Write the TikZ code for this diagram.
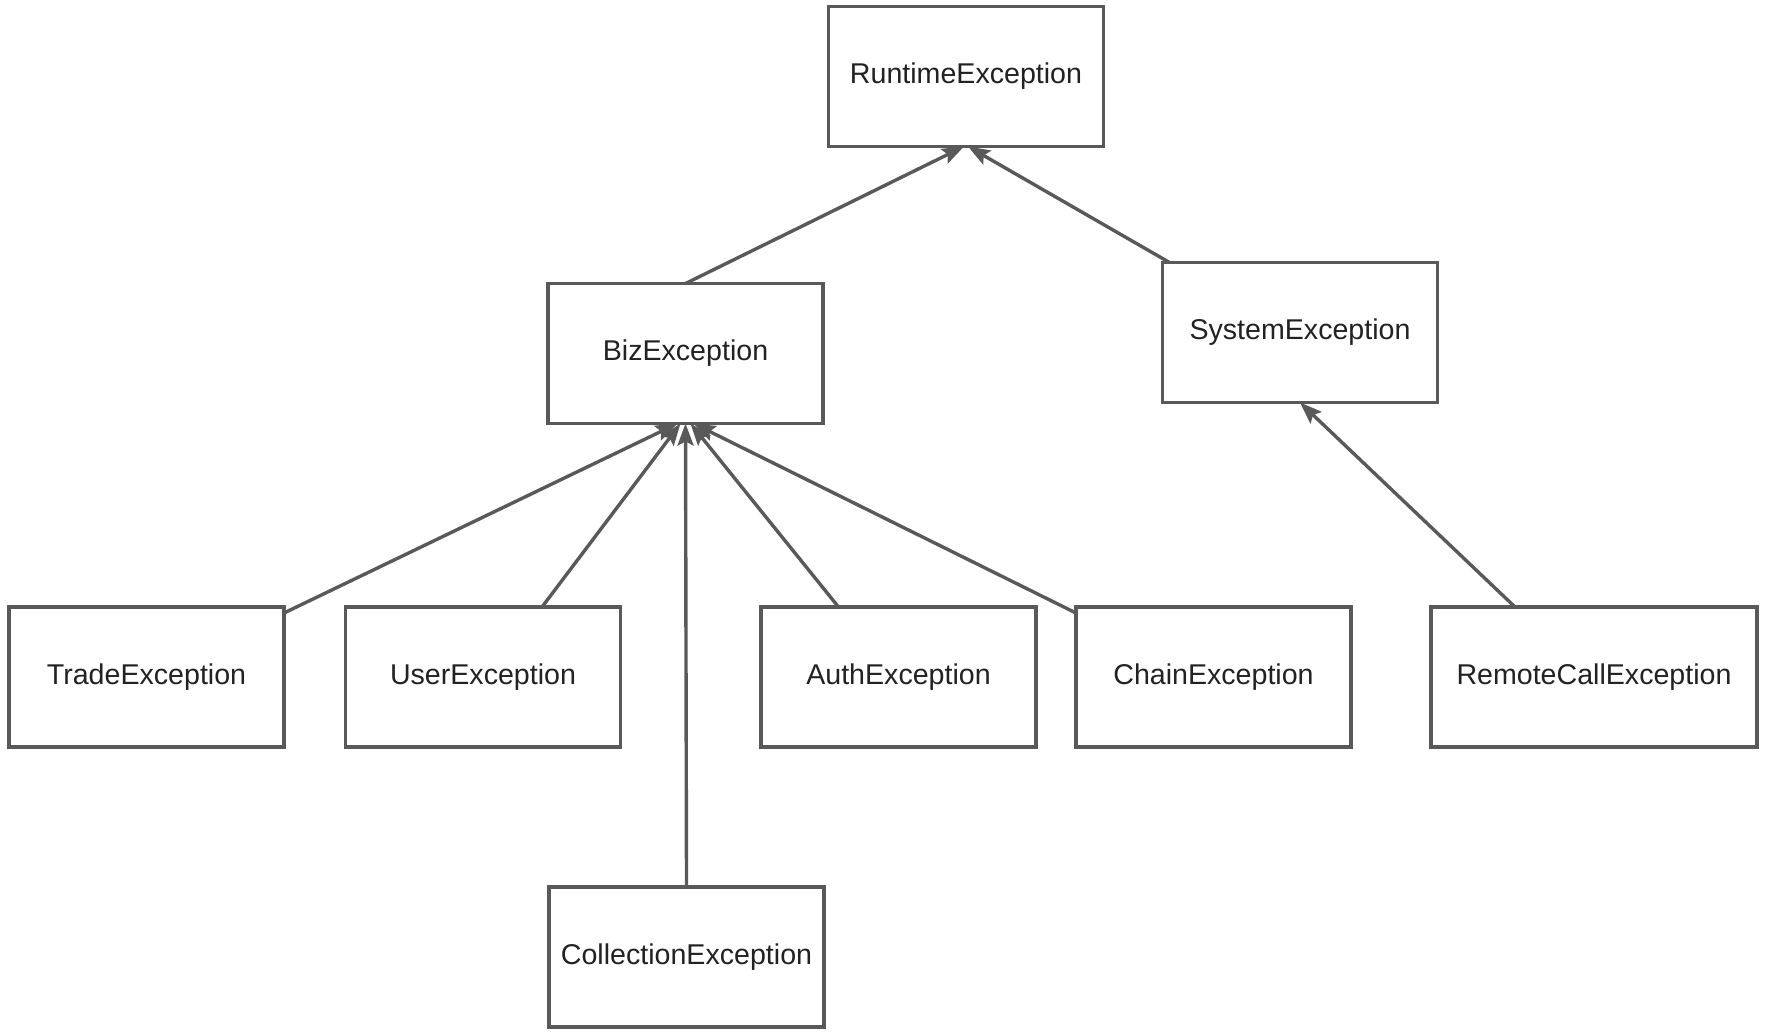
\documentclass[tikz,border=0pt]{standalone}
\usepackage{fontspec}
\setmainfont{Liberation Sans}
\usetikzlibrary{arrows.meta,calc}
\definecolor{edgegray}{HTML}{595959}
\definecolor{txt}{HTML}{222222}
\begin{document}
\begin{tikzpicture}[x=0.5pt,y=-0.5pt,
  cls/.style={draw=edgegray,line width=1.7pt,minimum width=137.5pt,minimum height=70pt,
    inner sep=0pt,outer sep=0pt,font=\fontsize{14.3}{17}\selectfont,text=txt,fill=white},
  inh/.style={draw=edgegray,line width=1.7pt,-{Stealth[length=11pt,width=8pt,inset=2pt]}}]
\useasboundingbox (0,0) rectangle (1770,1034);
\node[cls] (rt) at (966,76.5) {RuntimeException};
\node[cls] (biz) at (685.5,353.5) {BizException};
\node[cls] (sys) at (1300,332.5) {SystemException};
\node[cls] (trade) at (146.5,677) {TradeException};
\node[cls] (user) at (483,677) {UserException};
\node[cls] (auth) at (898.5,677) {AuthException};
\node[cls] (chain) at (1213.5,677) {ChainException};
\node[cls,minimum width=163pt] (remote) at (1594,677) {RemoteCallException};
\node[cls] (coll) at (686.5,957) {CollectionException};

\draw[inh] (biz.north) -- ($(rt.south)+(-2,0)$);
\draw[inh] ($(sys.north west)+(7,0)$) -- ($(rt.south)+(2,0)$);
\draw[inh] ($(trade.north east)+(0,6)$) -- ($(biz.south)+(-8,0)$);
\draw[inh] ($(user.north)+(59,0)$) -- ($(biz.south)+(-5,0)$);
\draw[inh] (coll.north) -- (biz.south);
\draw[inh] ($(auth.north)+(-60,0)$) -- ($(biz.south)+(5,0)$);
\draw[inh] ($(chain.north west)+(0,6)$) -- ($(biz.south)+(8,0)$);
\draw[inh] ($(remote.north)+(-79,0)$) -- (sys.south);
\end{tikzpicture}
\end{document}
